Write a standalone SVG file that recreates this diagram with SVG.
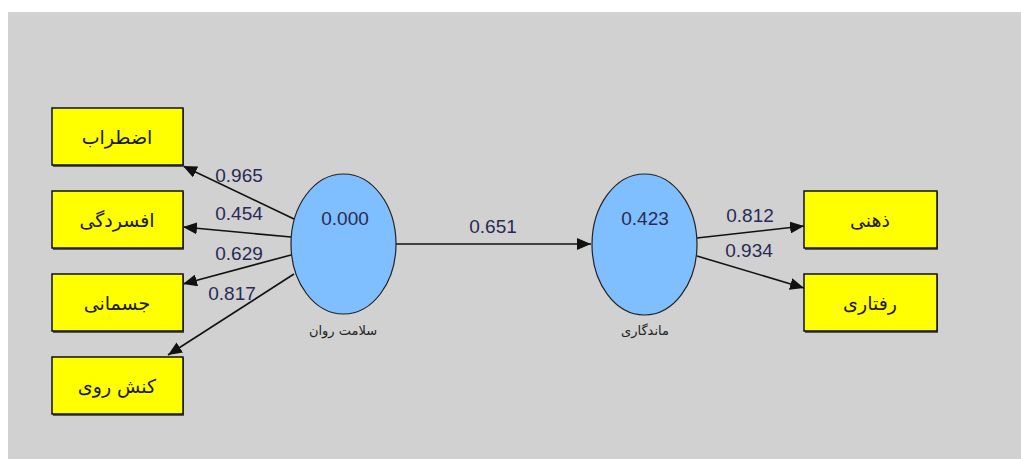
<svg xmlns="http://www.w3.org/2000/svg" width="1021" height="459" viewBox="0 0 1021 459">
<style>
.box{fill:#ffff00;stroke:#111;stroke-width:1.5}
.shadow{fill:#555}
.lv{fill:#7fbfff;stroke:#222;stroke-width:1.2}
.fa{font-family:"DejaVu Sans",sans-serif;font-size:19px;fill:#1a1a00;text-anchor:middle}
.num{font-family:"Liberation Sans",sans-serif;font-size:19px;fill:#2a2a55;text-anchor:middle}
.lbl{font-family:"DejaVu Sans",sans-serif;font-size:13px;fill:#222;text-anchor:middle}
.conn{stroke:#111;stroke-width:1.6;fill:none;marker-end:url(#arr)}
</style>
<defs>
<marker id="arr" viewBox="0 0 14 12" refX="14" refY="6" markerWidth="14" markerHeight="12" markerUnits="userSpaceOnUse" orient="auto">
<path d="M0,0 L14,6 L0,12 Z" fill="#111"/>
</marker>
</defs>
<rect x="0" y="0" width="1021" height="459" fill="#ffffff"/>
<rect x="8" y="12" width="1013" height="447" fill="#d1d1d1"/>
<g id="connectors">
<line class="conn" x1="396" y1="244" x2="591" y2="244"/>
<line class="conn" x1="294" y1="219" x2="183" y2="166"/>
<line class="conn" x1="291" y1="237" x2="183" y2="227"/>
<line class="conn" x1="291" y1="255" x2="183" y2="284"/>
<line class="conn" x1="294" y1="274" x2="168" y2="355"/>
<line class="conn" x1="697" y1="238" x2="804" y2="226"/>
<line class="conn" x1="697" y1="256" x2="804" y2="288"/>
<text class="num" x="493" y="233">0.651</text>
<text class="num" x="239" y="182">0.965</text>
<text class="num" x="239" y="220">0.454</text>
<text class="num" x="239" y="260">0.629</text>
<text class="num" x="232" y="300">0.817</text>
<text class="num" x="750" y="222">0.812</text>
<text class="num" x="749" y="257">0.934</text>
</g>
<g id="n_ezterab">
<rect class="shadow" x="53" y="109" width="131" height="58"/>
<rect class="box" x="52" y="108" width="131" height="57"/>
<text class="fa" x="117" y="144">اضطراب</text>
</g>
<g id="n_afsordegi">
<rect class="shadow" x="53" y="192" width="131" height="58"/>
<rect class="box" x="52" y="191" width="131" height="57"/>
<text class="fa" x="117" y="227">افسردگی</text>
</g>
<g id="n_jesmani">
<rect class="shadow" x="53" y="275" width="131" height="58"/>
<rect class="box" x="52" y="274" width="131" height="57"/>
<text class="fa" x="117" y="310">جسمانی</text>
</g>
<g id="n_konesh">
<rect class="shadow" x="53" y="358" width="131" height="58"/>
<rect class="box" x="52" y="357" width="131" height="57"/>
<text class="fa" x="117" y="393">کنش روی</text>
</g>
<g id="n_salamat">
<ellipse class="lv" cx="343.5" cy="244" rx="52.5" ry="70"/>
<text class="num" x="345" y="225">0.000</text>
<text class="lbl" x="343" y="335">سلامت روان</text>
</g>
<g id="n_mandegari">
<ellipse class="lv" cx="644.5" cy="244.5" rx="52.5" ry="70.5"/>
<text class="num" x="645" y="225">0.423</text>
<text class="lbl" x="645" y="335">ماندگاری</text>
</g>
<g id="n_zehni">
<rect class="shadow" x="805" y="192" width="133" height="58"/>
<rect class="box" x="804" y="191" width="133" height="57"/>
<text class="fa" x="870" y="227">ذهنی</text>
</g>
<g id="n_raftari">
<rect class="shadow" x="805" y="275" width="133" height="58"/>
<rect class="box" x="804" y="274" width="133" height="57"/>
<text class="fa" x="870" y="310">رفتاری</text>
</g>
</svg>
